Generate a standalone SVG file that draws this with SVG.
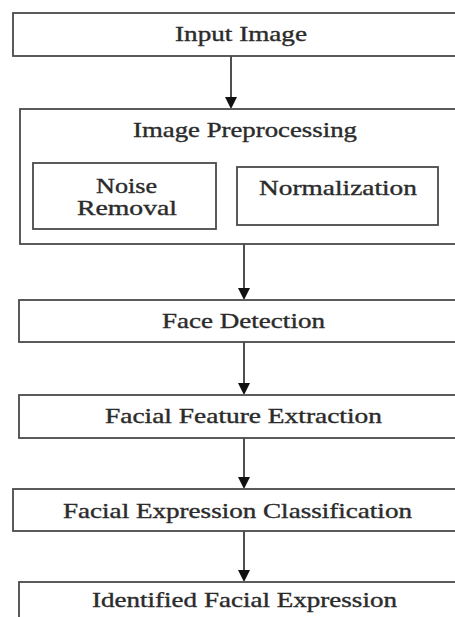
<svg xmlns="http://www.w3.org/2000/svg" width="455" height="617" viewBox="0 0 455 617">
<defs>
<style>
.box{fill:#fff;stroke:#4a4a4a;stroke-width:1.8}
.lbl{font-family:"Liberation Serif","Times New Roman",serif;font-size:20px;fill:#2b2b2b;stroke:#2b2b2b;stroke-width:0.35;font-weight:normal}
.con{stroke:#222;stroke-width:1.6;fill:none}
.head{fill:#111}
</style>
</defs>
<rect width="455" height="617" fill="#fff"/>
<g id="connectors">
<line class="con" x1="231" y1="56" x2="231" y2="98"/>
<polygon class="head" points="225,97 237,97 231,109"/>
<line class="con" x1="244" y1="244" x2="244" y2="289"/>
<polygon class="head" points="238,288 250,288 244,300"/>
<line class="con" x1="244" y1="342" x2="244" y2="384"/>
<polygon class="head" points="238,383 250,383 244,395"/>
<line class="con" x1="244" y1="438" x2="244" y2="478"/>
<polygon class="head" points="238,477 250,477 244,489"/>
<line class="con" x1="244" y1="531" x2="244" y2="571"/>
<polygon class="head" points="238,570 250,570 244,582"/>
</g>
<g id="input-image">
<rect class="box" x="13" y="13" width="460" height="43"/>
<text class="lbl" transform="translate(175,41) scale(1.35,1)" x="0" y="0" textLength="97.8" lengthAdjust="spacingAndGlyphs">Input Image</text>
</g>
<g id="image-preprocessing">
<rect class="box" x="20" y="109" width="460" height="135"/>
<text class="lbl" transform="translate(133,137) scale(1.35,1)" x="0" y="0" textLength="165.9" lengthAdjust="spacingAndGlyphs">Image Preprocessing</text>
</g>
<g id="noise-removal">
<rect class="box" x="33" y="163" width="183" height="66"/>
<text class="lbl" transform="translate(96,193) scale(1.35,1)" x="0" y="0" textLength="45.2" lengthAdjust="spacingAndGlyphs">Noise</text>
<text class="lbl" transform="translate(77,215) scale(1.35,1)" x="0" y="0" textLength="74.1" lengthAdjust="spacingAndGlyphs">Removal</text>
</g>
<g id="normalization">
<rect class="box" x="237" y="167" width="201" height="58"/>
<text class="lbl" transform="translate(259,195) scale(1.35,1)" x="0" y="0" textLength="117" lengthAdjust="spacingAndGlyphs">Normalization</text>
</g>
<g id="face-detection">
<rect class="box" x="19" y="300" width="460" height="42"/>
<text class="lbl" transform="translate(162,328) scale(1.35,1)" x="0" y="0" textLength="120.7" lengthAdjust="spacingAndGlyphs">Face Detection</text>
</g>
<g id="facial-feature-extraction">
<rect class="box" x="19" y="395" width="460" height="43"/>
<text class="lbl" transform="translate(105,423) scale(1.35,1)" x="0" y="0" textLength="205.2" lengthAdjust="spacingAndGlyphs">Facial Feature Extraction</text>
</g>
<g id="facial-expression-classification">
<rect class="box" x="13" y="489" width="460" height="42"/>
<text class="lbl" transform="translate(63,518) scale(1.35,1)" x="0" y="0" textLength="258.5" lengthAdjust="spacingAndGlyphs">Facial Expression Classification</text>
</g>
<g id="identified-facial-expression">
<rect class="box" x="19" y="582" width="460" height="60"/>
<text class="lbl" transform="translate(92,607) scale(1.35,1)" x="0" y="0" textLength="225.9" lengthAdjust="spacingAndGlyphs">Identified Facial Expression</text>
</g>
</svg>
